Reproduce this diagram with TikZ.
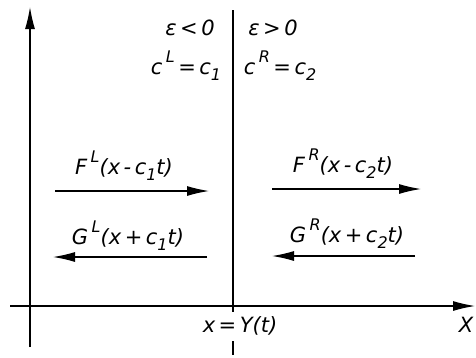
\documentclass[tikz,border=0pt]{standalone}
\usepackage{fontspec}
\setmainfont{DejaVu Sans}
\usetikzlibrary{arrows.meta}
\newcommand{\up}[1]{\,\raisebox{0.55em}{\fontsize{16}{16}\selectfont #1}}
\newcommand{\dn}[1]{\raisebox{-0.3em}{\fontsize{16}{16}\selectfont #1}}
\begin{document}
\begin{tikzpicture}
   [x=1pt,y=-1pt,line width=1.2pt,
    every node/.style={font=\fontsize{21}{25}\selectfont\itshape,inner sep=0pt},
    wave/.style={-{Latex[length=22pt,width=10pt]}}]
  \useasboundingbox (0,0) rectangle (476,357);

  % axes and interface
  \coordinate (ybot) at (30,347);
  \coordinate (ytop) at (30,7);
  \coordinate (xlft) at (10,306);
  \coordinate (xrgt) at (475,306);
  \coordinate (itop) at (233,10);
  \coordinate (ibot) at (233,312);
  \coordinate (jtop) at (233,341);
  \coordinate (jbot) at (233,355);

  \draw[wave] (ybot) -- (ytop);
  \draw[wave] (xlft) -- (xrgt);
  \draw (itop) -- (ibot);
  \draw (jtop) -- (jbot);

  % labels
  \node (epsl) at (190,28) {ε\,<\,0};
  \node (epsr) at (273,28) {ε\,>\,0};
  \node (cl) at (186,66) {c\up{L}\,=\,c\dn{1}};
  \node (cr) at (280,66) {c\up{R}\,=\,c\dn{2}};
  \node (fl) at (124,166) {F\up{L}(x\,-\,c\dn{1}t)};
  \node (fr) at (343,164) {F\up{R}(x\,-\,c\dn{2}t)};
  \node (gl) at (128,236) {G\up{L}(x\,+\,c\dn{1}t)};
  \node (gr) at (347,234) {G\up{R}(x\,+\,c\dn{2}t)};
  \node (yt) at (240,326) {x\,=\,Y(t)};
  \node (xx) at (466,325) {X};

  % travelling waves
  \coordinate (fl1) at (55,191);  \coordinate (fl2) at (209,191);
  \coordinate (fr1) at (272,189); \coordinate (fr2) at (421,189);
  \coordinate (gl1) at (207,257); \coordinate (gl2) at (53,257);
  \coordinate (gr1) at (415,256); \coordinate (gr2) at (272,256);

  \foreach \from/\to in {fl1/fl2, fr1/fr2, gl1/gl2, gr1/gr2}
    \draw[wave] (\from) -- (\to);

\end{tikzpicture}
\end{document}
